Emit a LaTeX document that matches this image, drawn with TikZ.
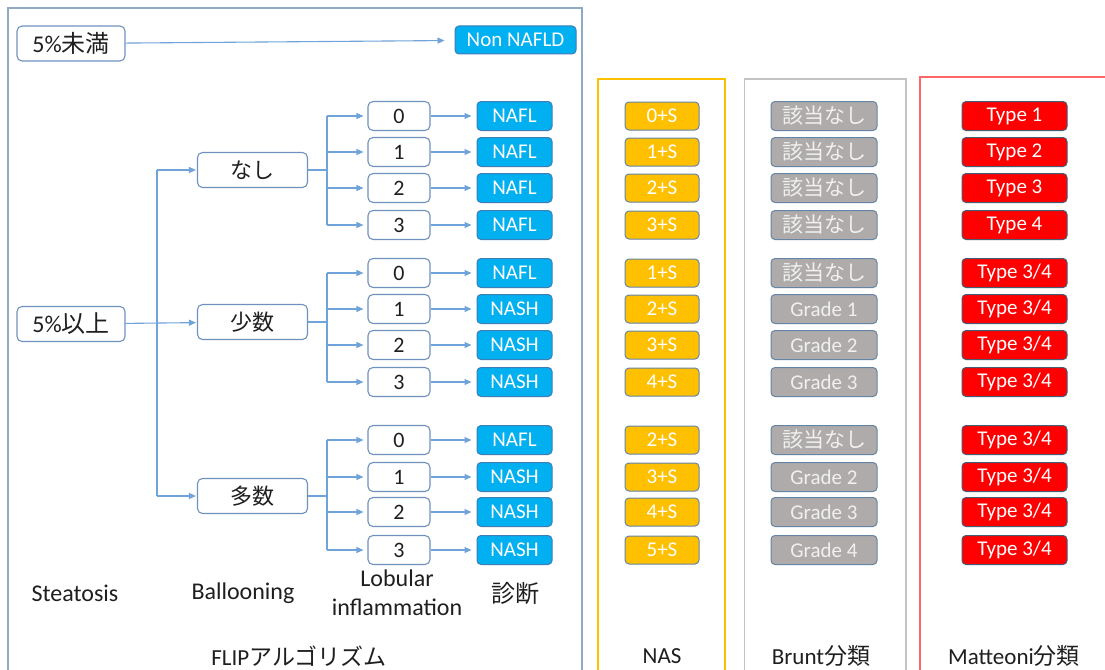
\documentclass[tikz,border=0pt]{standalone}
\usepackage{fontspec}
\setmainfont{Carlito}
\newfontfamily\jp{Noto Sans CJK JP}
\usetikzlibrary{arrows.meta}
\definecolor{connc}{HTML}{6FA3DA}
\definecolor{boxline}{HTML}{6E91BF}
\definecolor{cyanc}{HTML}{00B0F0}
\definecolor{cyanline}{HTML}{3F7DB5}
\definecolor{nasc}{HTML}{FFC000}
\definecolor{brc}{HTML}{AFABAB}
\definecolor{mtc}{HTML}{FF0000}
\definecolor{cboxline}{HTML}{6585A8}
\definecolor{frmain}{HTML}{8FA9C7}
\definecolor{frnas}{HTML}{FFC000}
\definecolor{frbr}{HTML}{C3C3C3}
\definecolor{frmt}{HTML}{FF6666}
\definecolor{txt}{HTML}{1F1F1F}
\tikzset{
  line/.style={draw=connc, line width=1.1pt},
  arr/.style={line, -{Triangle[length=7pt,width=6pt]}},
  wbox/.style={draw=boxline, line width=1.1pt, rounded corners=5pt, fill=white, inner sep=0pt,
    text=txt, font=\fontsize{22}{22}\selectfont},
  numbox/.style={wbox, minimum width=62pt, minimum height=29pt},
  balbox/.style={wbox, minimum width=110pt, minimum height=35pt},
  stbox/.style={wbox, minimum width=108pt, minimum height=35pt, font=\fontsize{24}{24}\selectfont},
  cbox/.style={draw=cboxline, line width=1pt, rounded corners=4pt, inner sep=0pt, minimum height=29pt,
    font=\fontsize{21}{21}\selectfont},
  dxbox/.style={cbox, fill=cyanc, draw=cyanline, text=white, minimum width=75pt},
  nasbox/.style={cbox, fill=nasc, text=white, minimum width=74pt, minimum height=28pt},
  brbox/.style={cbox, fill=brc, text=white!94!black, minimum width=106pt},
  mtbox/.style={cbox, fill=mtc, draw=cboxline!70!black, text=white, minimum width=105pt},
  lab/.style={text=txt, inner sep=0pt, font=\fontsize{24}{29}\selectfont, align=center},
  ttl/.style={text=txt, inner sep=0pt, font=\fontsize{23}{29}\selectfont},
  frame/.style={line width=1.5pt}
}
\begin{document}
\begin{tikzpicture}[x=1pt,y=-1pt]
\useasboundingbox (0,0) rectangle (1105,669);
\clip (0,0) rectangle (1105,669);
\fill[white] (0,0) rectangle (1105,669);
% frames
\draw[frame, draw=frmain] (8,8) rectangle (582,700);
\draw[frame, draw=frnas, line width=1.3pt] (598,79) rectangle (725,700);
\draw[frame, draw=frbr, line width=1.3pt] (744.5,79) rectangle (906,700);
\draw[frame, draw=frmt, line width=1.3pt] (920,77) rectangle (1130,700);

% steatosis
\node[stbox] (s5u) at (71,43.5) {5\%{\jp 未満}};
\node[stbox] (s5o) at (71,324) {5\%{\jp 以上}};
\node[dxbox, minimum width=121pt, minimum height=28pt] (nonnafld) at (515.5,40) {Non NAFLD};
\draw[arr, shorten >=10pt] (s5u) -- (nonnafld);

% ballooning
\node[balbox] (g1) at (252.5,170) {\jp なし};
\node[balbox] (g2) at (252.5,322) {\jp 少数};
\node[balbox] (g3) at (252.5,496) {\jp 多数};
\coordinate (tk) at (157,0);
\draw[line] (tk |- g1) -- (tk |- g3);
\draw[arr, shorten >=1pt] (tk |- g1) -- (g1);
\draw[arr, shorten >=1pt] (s5o) -- (g2);
\draw[arr, shorten >=1pt] (tk |- g3) -- (g3);

% rows
\coordinate (bx) at (327,0);
\foreach \r/\g/\y/\num/\dx/\nas/\br/\mt in {
  a0/1/116/0/NAFL/0+S/{\jp 該当なし}/{Type 1},
  a1/1/152/1/NAFL/1+S/{\jp 該当なし}/{Type 2},
  a2/1/188/2/NAFL/2+S/{\jp 該当なし}/{Type 3},
  a3/1/225/3/NAFL/3+S/{\jp 該当なし}/{Type 4},
  b0/2/273/0/NAFL/1+S/{\jp 該当なし}/{Type 3/4},
  b1/2/309/1/NASH/2+S/{Grade 1}/{Type 3/4},
  b2/2/345/2/NASH/3+S/{Grade 2}/{Type 3/4},
  b3/2/382/3/NASH/4+S/{Grade 3}/{Type 3/4},
  c0/3/440/0/NAFL/2+S/{\jp 該当なし}/{Type 3/4},
  c1/3/477/1/NASH/3+S/{Grade 2}/{Type 3/4},
  c2/3/512/2/NASH/4+S/{Grade 3}/{Type 3/4},
  c3/3/550/3/NASH/5+S/{Grade 4}/{Type 3/4}}{
  \node[numbox] (n\r) at (399,\y) {\num};
  \node[dxbox] (d\r) at (514.5,\y) {\dx};
  \node[nasbox] (p\r) at (662,\y) {\nas};
  \node[brbox] (q\r) at (824,\y) {\br};
  \node[mtbox] (m\r) at (1014.5,\y) {\mt};
  \draw[arr, shorten >=4pt] (bx |- n\r) -- (n\r);
  \draw[arr, shorten >=5pt] (n\r) -- (d\r);
}
\draw[line] (g1.east) -- (bx |- g1);
\draw[line] (bx |- na0) -- (bx |- na3);
\draw[line] (g2.east) -- (bx |- g2);
\draw[line] (bx |- nb0) -- (bx |- nb3);
\draw[line] (g3.east) -- (bx |- g3);
\draw[line] (bx |- nc0) -- (bx |- nc3);

% labels
\node[lab] (l1) at (75,593) {Steatosis};
\node[lab] (l2) at (243,593) {Ballooning};
\node[lab] (l3) at (397,593) {Lobular\\inflammation};
\node[lab] (l4) at (515,593) {\jp 診断};
\node[ttl] (t1) at (299,656) {FLIP{\jp アルゴリズム}};
\node[ttl] (t2) at (662,656) {NAS};
\node[ttl] (t3) at (821,656) {Brunt{\jp 分類}};
\node[ttl] (t4) at (1014,656) {Matteoni{\jp 分類}};
\end{tikzpicture}
\end{document}
